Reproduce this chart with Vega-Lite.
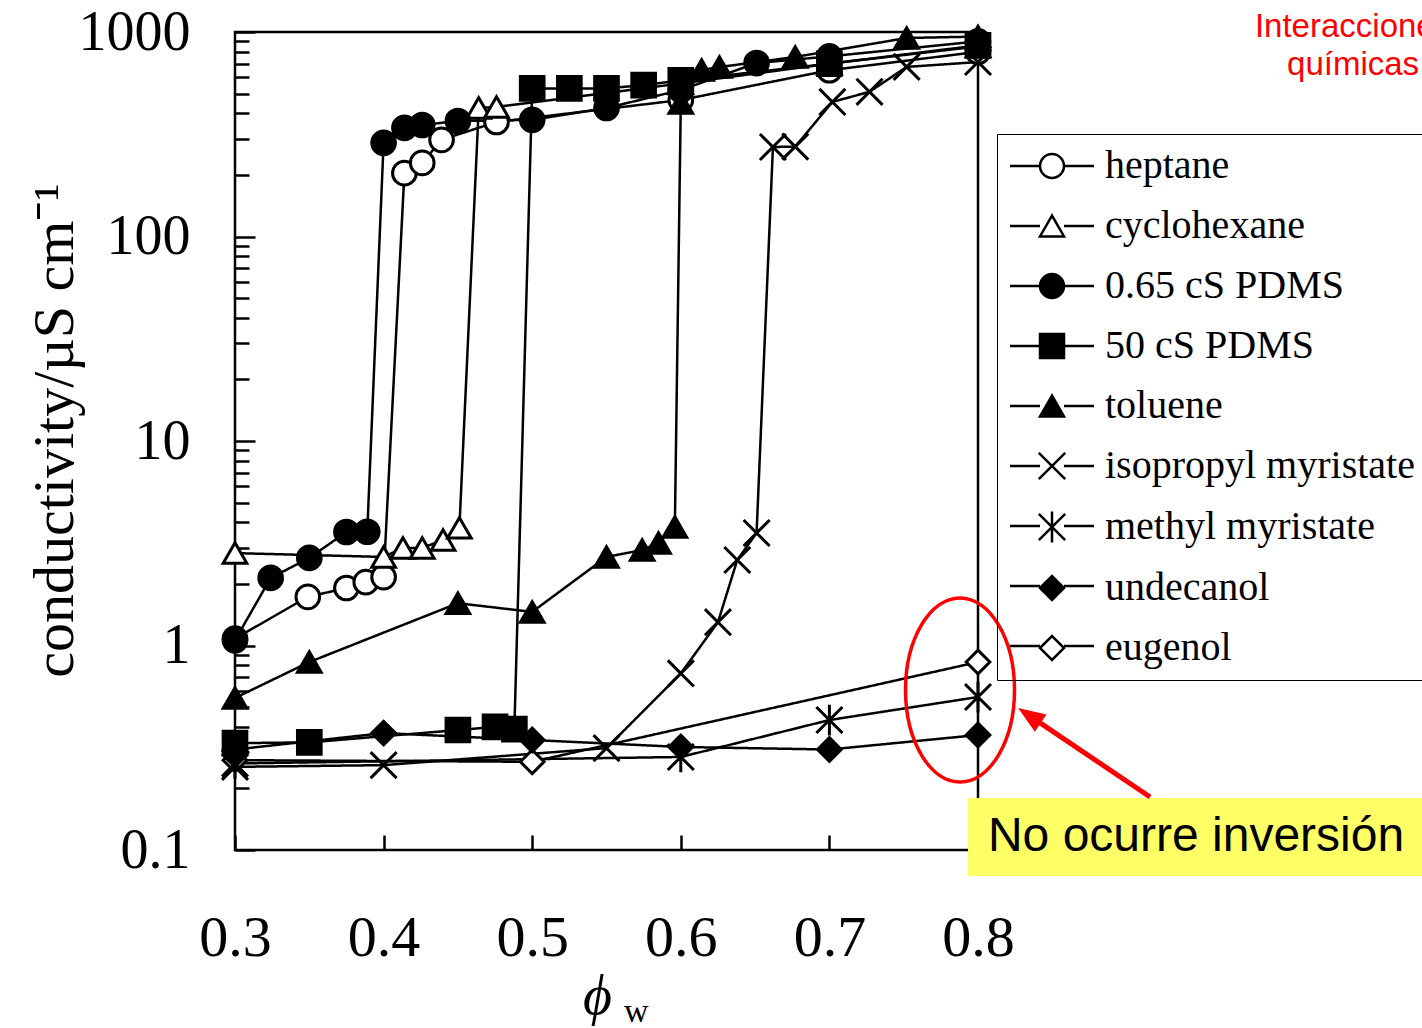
{
  "$schema": "https://vega.github.io/schema/vega-lite/v6.json",
  "width": 743,
  "height": 818,
  "autosize": "none",
  "padding": {"left": 235, "top": 32, "right": 444, "bottom": 178},
  "background": "white",
  "config": {
    "view": {"stroke": "black", "strokeWidth": 2.5},
    "font": "Liberation Serif",
    "axis": {"grid": false, "domain": false, "tickColor": "black", "tickWidth": 2.5, "labelColor": "black", "titleColor": "black", "titleFontWeight": "normal"}
  },
  "datasets": {
    "d": [
      {"s": "heptane", "phi": 0.3, "k": 1.08}, {"s": "heptane", "phi": 0.349, "k": 1.73}, {"s": "heptane", "phi": 0.375, "k": 1.91}, {"s": "heptane", "phi": 0.388, "k": 2.04}, {"s": "heptane", "phi": 0.4, "k": 2.16}, {"s": "heptane", "phi": 0.414, "k": 204}, {"s": "heptane", "phi": 0.426, "k": 229}, {"s": "heptane", "phi": 0.439, "k": 297}, {"s": "heptane", "phi": 0.476, "k": 363}, {"s": "heptane", "phi": 0.6, "k": 465}, {"s": "heptane", "phi": 0.7, "k": 650}, {"s": "heptane", "phi": 0.8, "k": 800},
      {"s": "cyclohexane", "phi": 0.3, "k": 2.83}, {"s": "cyclohexane", "phi": 0.4, "k": 2.71}, {"s": "cyclohexane", "phi": 0.413, "k": 3.0}, {"s": "cyclohexane", "phi": 0.426, "k": 3.0}, {"s": "cyclohexane", "phi": 0.44, "k": 3.28}, {"s": "cyclohexane", "phi": 0.451, "k": 3.76}, {"s": "cyclohexane", "phi": 0.464, "k": 425}, {"s": "cyclohexane", "phi": 0.476, "k": 430}, {"s": "cyclohexane", "phi": 0.6, "k": 560}, {"s": "cyclohexane", "phi": 0.7, "k": 700}, {"s": "cyclohexane", "phi": 0.8, "k": 850},
      {"s": "eugenol", "phi": 0.3, "k": 0.275}, {"s": "eugenol", "phi": 0.5, "k": 0.27}, {"s": "eugenol", "phi": 0.8, "k": 0.83},
      {"s": "isopropyl myristate", "phi": 0.3, "k": 0.255}, {"s": "isopropyl myristate", "phi": 0.4, "k": 0.26}, {"s": "isopropyl myristate", "phi": 0.55, "k": 0.315}, {"s": "isopropyl myristate", "phi": 0.6, "k": 0.73}, {"s": "isopropyl myristate", "phi": 0.625, "k": 1.3}, {"s": "isopropyl myristate", "phi": 0.638, "k": 2.62}, {"s": "isopropyl myristate", "phi": 0.651, "k": 3.55}, {"s": "isopropyl myristate", "phi": 0.662, "k": 274}, {"s": "isopropyl myristate", "phi": 0.677, "k": 275}, {"s": "isopropyl myristate", "phi": 0.702, "k": 455}, {"s": "isopropyl myristate", "phi": 0.727, "k": 510}, {"s": "isopropyl myristate", "phi": 0.752, "k": 675}, {"s": "isopropyl myristate", "phi": 0.8, "k": 713},
      {"s": "methyl myristate", "phi": 0.3, "k": 0.265}, {"s": "methyl myristate", "phi": 0.6, "k": 0.285}, {"s": "methyl myristate", "phi": 0.7, "k": 0.432}, {"s": "methyl myristate", "phi": 0.8, "k": 0.56},
      {"s": "toluene", "phi": 0.3, "k": 0.554}, {"s": "toluene", "phi": 0.35, "k": 0.83}, {"s": "toluene", "phi": 0.45, "k": 1.61}, {"s": "toluene", "phi": 0.5, "k": 1.46}, {"s": "toluene", "phi": 0.55, "k": 2.71}, {"s": "toluene", "phi": 0.574, "k": 2.93}, {"s": "toluene", "phi": 0.585, "k": 3.17}, {"s": "toluene", "phi": 0.596, "k": 3.8}, {"s": "toluene", "phi": 0.6, "k": 450}, {"s": "toluene", "phi": 0.614, "k": 652}, {"s": "toluene", "phi": 0.626, "k": 674}, {"s": "toluene", "phi": 0.677, "k": 755}, {"s": "toluene", "phi": 0.752, "k": 935}, {"s": "toluene", "phi": 0.8, "k": 950},
      {"s": "undecanol", "phi": 0.3, "k": 0.31}, {"s": "undecanol", "phi": 0.4, "k": 0.373}, {"s": "undecanol", "phi": 0.5, "k": 0.345}, {"s": "undecanol", "phi": 0.6, "k": 0.319}, {"s": "undecanol", "phi": 0.7, "k": 0.31}, {"s": "undecanol", "phi": 0.8, "k": 0.365},
      {"s": "50 cS PDMS", "phi": 0.3, "k": 0.333}, {"s": "50 cS PDMS", "phi": 0.35, "k": 0.336}, {"s": "50 cS PDMS", "phi": 0.45, "k": 0.386}, {"s": "50 cS PDMS", "phi": 0.475, "k": 0.4}, {"s": "50 cS PDMS", "phi": 0.488, "k": 0.39}, {"s": "50 cS PDMS", "phi": 0.5, "k": 530}, {"s": "50 cS PDMS", "phi": 0.525, "k": 530}, {"s": "50 cS PDMS", "phi": 0.55, "k": 530}, {"s": "50 cS PDMS", "phi": 0.575, "k": 550}, {"s": "50 cS PDMS", "phi": 0.6, "k": 580}, {"s": "50 cS PDMS", "phi": 0.7, "k": 700}, {"s": "50 cS PDMS", "phi": 0.8, "k": 860},
      {"s": "0.65 cS PDMS", "phi": 0.3, "k": 1.06}, {"s": "0.65 cS PDMS", "phi": 0.324, "k": 2.14}, {"s": "0.65 cS PDMS", "phi": 0.35, "k": 2.68}, {"s": "0.65 cS PDMS", "phi": 0.375, "k": 3.59}, {"s": "0.65 cS PDMS", "phi": 0.389, "k": 3.6}, {"s": "0.65 cS PDMS", "phi": 0.4, "k": 287}, {"s": "0.65 cS PDMS", "phi": 0.414, "k": 340}, {"s": "0.65 cS PDMS", "phi": 0.426, "k": 351}, {"s": "0.65 cS PDMS", "phi": 0.45, "k": 367}, {"s": "0.65 cS PDMS", "phi": 0.5, "k": 372}, {"s": "0.65 cS PDMS", "phi": 0.55, "k": 425}, {"s": "0.65 cS PDMS", "phi": 0.6, "k": 520}, {"s": "0.65 cS PDMS", "phi": 0.651, "k": 705}, {"s": "0.65 cS PDMS", "phi": 0.7, "k": 760}, {"s": "0.65 cS PDMS", "phi": 0.8, "k": 900}
    ]
  },
  "resolve": {"axis": {"y": "independent"}},
  "layer": [
    {
      "data": {"name": "d"},
      "mark": {"type": "line", "color": "black", "strokeWidth": 2.5},
      "encoding": {
        "x": {"field": "phi", "type": "quantitative", "scale": {"domain": [0.3, 0.8], "nice": false, "zero": false},
          "axis": {"values": [0.3, 0.4, 0.5, 0.6, 0.7, 0.8], "format": ".1f", "tickSize": -15, "labelFontSize": 58, "labelFont": "Liberation Serif", "labelPadding": 74, "labelBaseline": "top", "labelFlush": false,
            "title": "ϕ", "titleFont": "Liberation Serif", "titleFontSize": 56, "titleFontStyle": "italic", "titleX": 362, "titleY": 163, "titleAlign": "center", "titleBaseline": "alphabetic"}},
        "y": {"field": "k", "type": "quantitative", "scale": {"type": "log", "domain": [0.1, 1000], "nice": false},
          "axis": {"orient": "left", "values": [0.1, 1, 10, 100, 1000], "labelExpr": "datum.value < 1 ? '0.1' : format(datum.value, 'd')", "tickSize": -20, "labelFontSize": 56, "labelFont": "Liberation Serif", "labelPadding": 65, "labelFlush": false,
            "title": "conductivity/µS cm⁻¹", "titleFont": "Liberation Serif", "titleFontSize": 58, "titleX": -180, "titleY": 398, "titleAngle": -90, "titleAlign": "center", "titleBaseline": "middle"}},
        "strokeDash": {"field": "s", "type": "nominal",
          "sort": ["heptane", "cyclohexane", "0.65 cS PDMS", "50 cS PDMS", "toluene", "isopropyl myristate", "methyl myristate", "undecanol", "eugenol"],
          "scale": {"range": [[1, 0], [1, 0], [1, 0], [1, 0], [1, 0], [1, 0], [1, 0], [1, 0], [1, 0]]},
          "legend": {"title": null, "orient": "none", "legendX": 762, "legendY": 102, "padding": 12, "strokeColor": null, "fillColor": null,
            "labelFont": "Liberation Serif", "labelFontSize": 40, "labelColor": "transparent", "labelExpr": "' '", "labelLimit": 1000, "labelOffset": -60, "symbolType": "M-3.5,0L-1,0M1,0L3.5,0", "symbolSize": 576, "symbolOffset": 23, "symbolStrokeColor": "black", "symbolStrokeWidth": 2.5, "rowPadding": 20}}
      }
    },
    {
      "data": {"name": "d"},
      "mark": {"type": "point", "filled": true, "stroke": "black", "strokeWidth": 3, "size": 560, "opacity": 1},
      "encoding": {
        "x": {"field": "phi", "type": "quantitative", "scale": {"domain": [0.3, 0.8], "nice": false, "zero": false}},
        "y": {"field": "k", "type": "quantitative", "scale": {"type": "log", "domain": [0.1, 1000], "nice": false},
          "axis": {"orient": "left", "values": [0.2, 0.3, 0.4, 0.5, 0.6, 0.7, 0.8, 0.9, 2, 3, 4, 5, 6, 7, 8, 9, 20, 30, 40, 50, 60, 70, 80, 90, 200, 300, 400, 500, 600, 700, 800, 900], "labels": false, "tickSize": -14, "title": null}},
        "shape": {"field": "s", "type": "nominal",
          "scale": {"domain": ["heptane", "cyclohexane", "0.65 cS PDMS", "50 cS PDMS", "toluene", "isopropyl myristate", "methyl myristate", "undecanol", "eugenol"],
            "range": ["circle", "triangle-up", "circle", "square", "triangle-up", "M-1.1,-1.1L1.1,1.1M-1.1,1.1L1.1,-1.1", "M-1.1,-1.1L1.1,1.1M-1.1,1.1L1.1,-1.1M0,-1.3L0,1.3", "diamond", "diamond"]},
          "legend": {"title": null, "orient": "none", "legendX": 762, "legendY": 102, "padding": 12, "strokeColor": "black",
            "labelFont": "Liberation Serif", "labelFontSize": 40, "labelColor": "black", "labelLimit": 1000, "labelOffset": 33, "symbolSize": 576, "symbolOffset": 23, "symbolStrokeColor": "black", "symbolStrokeWidth": 2.5, "rowPadding": 20}
        },
        "fill": {"field": "s", "type": "nominal",
          "scale": {"domain": ["heptane", "cyclohexane", "0.65 cS PDMS", "50 cS PDMS", "toluene", "isopropyl myristate", "methyl myristate", "undecanol", "eugenol"],
            "range": ["white", "white", "black", "black", "black", "black", "black", "black", "white"]},
          "legend": {"title": null, "orient": "none", "legendX": 762, "legendY": 102, "padding": 12, "strokeColor": "black",
            "labelFont": "Liberation Serif", "labelFontSize": 40, "labelColor": "black", "labelLimit": 1000, "labelOffset": 33, "symbolSize": 576, "symbolOffset": 23, "symbolStrokeColor": "black", "symbolStrokeWidth": 2.5, "rowPadding": 20}
        },
        "stroke": {"field": "s", "type": "nominal",
          "scale": {"domain": ["heptane", "cyclohexane", "0.65 cS PDMS", "50 cS PDMS", "toluene", "isopropyl myristate", "methyl myristate", "undecanol", "eugenol"],
            "range": ["black", "black", "black", "black", "black", "black", "black", "black", "black"]},
          "legend": {"title": null, "orient": "none", "legendX": 762, "legendY": 102, "padding": 12, "strokeColor": "black",
            "labelFont": "Liberation Serif", "labelFontSize": 40, "labelColor": "black", "labelLimit": 1000, "labelOffset": 33, "symbolSize": 576, "symbolOffset": 23, "symbolStrokeColor": "black", "symbolStrokeWidth": 2.5, "rowPadding": 20}
        }
      }
    },
    {
      "data": {"values": [{}]},
      "mark": {"type": "rect", "color": "#ffff66", "clip": false},
      "encoding": {
        "x": {"datum": 0.7933, "type": "quantitative", "scale": {"domain": [0.3, 0.8], "nice": false, "zero": false}},
        "x2": {"datum": 1.12},
        "y": {"datum": 0.1796, "type": "quantitative", "scale": {"type": "log", "domain": [0.1, 1000], "nice": false}, "axis": null},
        "y2": {"datum": 0.0746}
      }
    },
    {
      "data": {"values": [{}]},
      "mark": {"type": "text", "text": "No ocurre inversión", "font": "Liberation Sans", "fontSize": 48, "color": "black", "align": "left", "baseline": "middle", "clip": false},
      "encoding": {
        "x": {"datum": 0.8067, "type": "quantitative", "scale": {"domain": [0.3, 0.8], "nice": false, "zero": false}},
        "y": {"datum": 0.1158, "type": "quantitative", "scale": {"type": "log", "domain": [0.1, 1000], "nice": false}, "axis": null}
      }
    },
    {
      "data": {"values": [{}]},
      "mark": {"type": "rule", "color": "#ff0000", "strokeWidth": 5, "clip": false},
      "encoding": {
        "x": {"datum": 0.9158, "type": "quantitative", "scale": {"domain": [0.3, 0.8], "nice": false, "zero": false}},
        "y": {"datum": 0.1816, "type": "quantitative", "scale": {"type": "log", "domain": [0.1, 1000], "nice": false}, "axis": null},
        "x2": {"datum": 0.8353},
        "y2": {"datum": 0.45}
      }
    },
    {
      "data": {"values": [{}]},
      "mark": {"type": "point", "shape": "M0,0L-0.65,1.7L0.65,1.7Z", "size": 1024, "angle": 304, "filled": true, "color": "#ff0000", "opacity": 1, "strokeWidth": 0, "clip": false},
      "encoding": {
        "x": {"datum": 0.827, "type": "quantitative", "scale": {"domain": [0.3, 0.8], "nice": false, "zero": false}},
        "y": {"datum": 0.495, "type": "quantitative", "scale": {"type": "log", "domain": [0.1, 1000], "nice": false}, "axis": null}
      }
    },
    {
      "data": {"values": [{}]},
      "mark": {"type": "point", "shape": "M-1,0C-1,-0.932,-0.552,-1.688,0,-1.688C0.552,-1.688,1,-0.932,1,0C1,0.932,0.552,1.688,0,1.688C-0.552,1.688,-1,0.932,-1,0Z", "size": 11881, "filled": false, "stroke": "#ff0000", "strokeWidth": 3.5, "opacity": 1, "clip": false},
      "encoding": {
        "x": {"datum": 0.7879, "type": "quantitative", "scale": {"domain": [0.3, 0.8], "nice": false, "zero": false}},
        "y": {"datum": 0.606, "type": "quantitative", "scale": {"type": "log", "domain": [0.1, 1000], "nice": false}, "axis": null}
      }
    },
    {
      "data": {"values": [{}]},
      "mark": {"type": "text", "text": ["Interacciones", "químicas"], "lineHeight": 38, "font": "Liberation Sans", "fontSize": 33, "color": "#ff0000", "align": "center", "baseline": "alphabetic", "clip": false},
      "encoding": {
        "x": {"datum": 1.0524, "type": "quantitative", "scale": {"domain": [0.3, 0.8], "nice": false, "zero": false}},
        "y": {"datum": 945, "type": "quantitative", "scale": {"type": "log", "domain": [0.1, 1000], "nice": false}, "axis": null}
      }
    },
    {
      "data": {"values": [{}]},
      "mark": {"type": "text", "text": "w", "font": "Liberation Serif", "fontSize": 34, "color": "black", "align": "center", "baseline": "alphabetic", "dy": 172, "clip": false},
      "encoding": {
        "x": {"datum": 0.57, "type": "quantitative", "scale": {"domain": [0.3, 0.8], "nice": false, "zero": false}},
        "y": {"datum": 0.1, "type": "quantitative", "scale": {"type": "log", "domain": [0.1, 1000], "nice": false}, "axis": null}
      }
    }
  ]
}
